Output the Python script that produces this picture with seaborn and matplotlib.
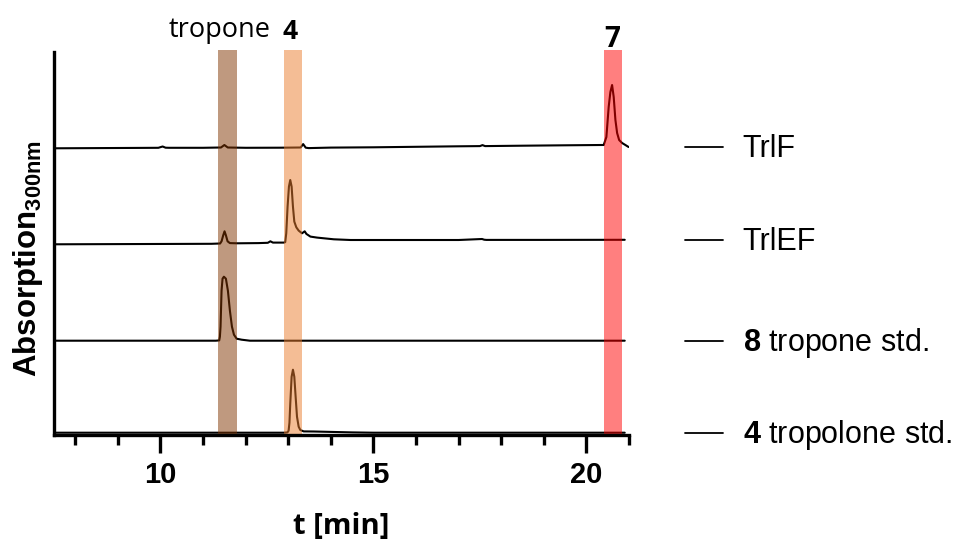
import numpy as np
import pandas as pd
import matplotlib
matplotlib.use("Agg")
import matplotlib.pyplot as plt
import matplotlib.transforms as mtransforms
import seaborn as sns

# ---------------- data ----------------
trace_names = ["TrlF", "TrlEF", "8 tropone std.", "4 tropolone std."]
legend_bold = ["", "", "8", "4"]
legend_rest = ["TrlF", "TrlEF", " tropone std.", " tropolone std."]

# TrlF
t_trlf = [7.5, 8.5, 9.5, 9.95, 10.05, 10.12, 10.2, 11.0, 11.42, 11.5, 11.58, 12.0,
          12.8, 13.29, 13.35, 13.41, 13.48, 14.0, 15.0, 16.0, 17.0, 17.5, 17.56,
          17.62, 18.5, 19.5, 20.35, 20.406, 20.469, 20.523, 20.563, 20.603, 20.641,
          20.681, 20.721, 20.768, 20.838, 20.915, 20.99]
a_trlf = [0, 0.2, 0.4, 0.5, 1.8, 0.6, 0.5, 0.5, 0.8, 3.3, 0.8, 0.5,
          0.6, 0.8, 4.2, 0.6, 0.2, 0.7, 1.0, 1.5, 2.0, 2.2, 3.2,
          2.2, 2.6, 3.0, 3.3, 3.3, 11.3, 41.3, 56.3, 63.3, 51.3,
          28.3, 15.3, 8.3, 5.3, 3.3, 1.3]

# TrlEF
t_trlef = [7.5, 9.0, 10.5, 11.2, 11.40, 11.434, 11.473, 11.504, 11.536, 11.575, 11.63,
           11.8, 12.3, 12.52, 12.58, 12.64, 12.9, 12.929, 12.953, 12.984, 13.016,
           13.047, 13.079, 13.11, 13.142, 13.189, 13.244, 13.323, 13.386, 13.425,
           13.52, 13.677, 14.07, 14.46, 15.64, 17.0, 17.55, 17.6, 17.65, 19.0, 20.9]
a_trlef = [0, 0.2, 0.4, 0.5, 0.8, 3, 9, 13, 9, 3, 1.2,
           1, 1.2, 1.5, 3, 1.7, 1.7, 2.2, 11, 37.7, 57.7,
           64.3, 57.7, 37.7, 22.7, 17, 13.7, 11, 13, 10.4,
           7.7, 6.7, 5, 4.3, 4.3, 4.3, 5.3, 4.6, 4.4, 4.4, 4.5]

# 8 tropone standard
t_trop = [7.5, 11.3, 11.379, 11.395, 11.41, 11.434, 11.457, 11.489, 11.536, 11.583,
          11.63, 11.678, 11.725, 11.788, 11.906, 12.10, 20.9]
a_trop = [0, 0, 0.3, 4, 14, 50, 62, 64, 62, 50,
          30, 14, 6, 2, 1, 0, 0]

# 4 tropolone standard
t_tropol = [7.5, 12.9, 12.98, 13.008, 13.028, 13.047, 13.079, 13.11, 13.142, 13.173,
            13.205, 13.244, 13.283, 13.362, 13.6, 14.0, 14.5, 15.0, 20.9]
a_tropol = [0, 0, 0.3, 2, 10, 29, 56, 63, 56, 36,
            16, 6, 2.7, 1.3, 1.2, 0.8, 0.3, 0, 0]

# highlighted retention-time windows
band_start = [11.34, 12.91, 20.41]
band_end = [11.80, 13.33, 20.84]
band_colors = ["#813501", "#EB7D2D", "#FF0000"]
band_text = ["tropone", "4", "7"]
band_text_x = [11.40, 13.05, 20.6]

x_major = [10, 15, 20]
x_minor = [8, 9, 10, 11, 12, 13, 14, 15, 16, 17, 18, 19, 20, 21]

# ---------------- layout constants ----------------
offsets = [286.7, 190.7, 94.3, 2.3]

sns.set_style("ticks")
plt.rcParams["font.family"] = ["Liberation Sans", "DejaVu Sans"]
plt.rcParams["mathtext.fontset"] = "custom"
plt.rcParams["mathtext.rm"] = "Liberation Sans"
plt.rcParams["mathtext.bf"] = "Liberation Sans:bold"
for k in ["text.color", "axes.labelcolor", "xtick.color", "ytick.color", "axes.edgecolor"]:
    plt.rcParams[k] = "black"

W, H = 965, 539
fig = plt.figure(figsize=(W / 100, H / 100), dpi=100)
ax = fig.add_axes([54 / W, 1 - 435 / H, 575 / W, 383 / H])

traces = [(t_trlf, a_trlf), (t_trlef, a_trlef), (t_trop, a_trop), (t_tropol, a_tropol)]
frames = []
for name, (t, a), off in zip(trace_names, traces, offsets):
    frames.append(pd.DataFrame({"t": t, "signal": np.asarray(a) + off, "trace": name}))
df = pd.concat(frames, ignore_index=True)

for name in trace_names:
    sub = df[df["trace"] == name]
    sns.lineplot(data=sub, x="t", y="signal", color="black", lw=1.5, ax=ax,
                 sort=False, estimator=None, zorder=2)

for s, e, c in zip(band_start, band_end, band_colors):
    ax.axvspan(s, e, ymin=0, ymax=1.005, color=c, alpha=0.5, lw=0, zorder=3,
               clip_on=False)

ax.set_xlim(7.5, 21)
ax.set_ylim(0, 383)
ax.set_yticks([])
ax.set_xticks(x_major)
ax.set_xticks(x_minor, minor=True)
ax.set_xticklabels([str(v) for v in x_major])
for lbl in ax.get_xticklabels():
    lbl.set_fontweight("bold")
    lbl.set_fontsize(21)
ax.tick_params(axis="x", which="major", length=13, width=2.4, pad=6, color="black")
ax.tick_params(axis="x", which="minor", length=7, width=2.4, color="black")

sns.despine(ax=ax)
for sp in ["left", "bottom"]:
    ax.spines[sp].set_linewidth(2.4)
    ax.spines[sp].set_color("black")
    ax.spines[sp].set_zorder(5)

ax.set_xlabel("t [min]", fontfamily="Open Sans", fontweight="bold", fontsize=21,
              labelpad=16)
ax.set_ylabel(r"$\mathbf{Absorption_{300nm}}$", fontsize=22.5)
ax.yaxis.set_label_coords(-0.015, 0.46)

# labels above the bands
tr = mtransforms.blended_transform_factory(ax.transData, ax.transAxes)
ax.text(band_text_x[0], 1.039, band_text[0], transform=tr,
        ha="center", va="baseline", fontfamily="Open Sans", fontsize=19.5)
ax.text(band_text_x[1], 1.035, band_text[1], transform=tr,
        ha="center", va="baseline", fontfamily="Open Sans", fontweight="bold", fontsize=19)
ax.text(band_text_x[2], 1.012, band_text[2], transform=tr,
        ha="center", va="baseline", fontfamily="Open Sans", fontweight="bold", fontsize=20)

# legend entries aligned with each trace's baseline
blend = mtransforms.blended_transform_factory(ax.transAxes, ax.transData)
for (t, a), off, b, r in zip(traces, offsets, legend_bold, legend_rest):
    y = off + a[-1]
    ax.plot([1.097, 1.164], [y, y], transform=blend, clip_on=False, color="black", lw=1.3)
    label = (r"$\mathbf{" + b + "}$" + r) if b else r
    ax.text(1.198, y - 2, label, transform=blend, ha="left", va="center", fontsize=22)

fig.savefig("out.png", dpi=100)
